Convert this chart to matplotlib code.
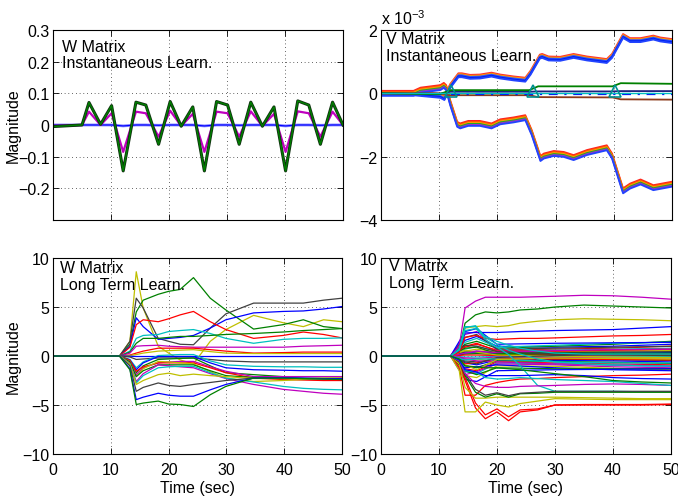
import matplotlib
matplotlib.use("Agg")
import matplotlib.pyplot as plt
from matplotlib.transforms import offset_copy

plt.rcParams['font.family'] = ['Liberation Sans', 'DejaVu Sans']
plt.rcParams['font.size'] = 11.5
plt.rcParams['mathtext.fontset'] = 'custom'
plt.rcParams['mathtext.rm'] = 'Liberation Sans'

# couleurs MATLAB
B, G, R, C, M, Y, K = '#0000ff', '#008000', '#ff0000', '#00bfbf', '#bf00bf', '#bfbf00', '#404040'

# --- W, apprentissage instantané ---
tl_t = [0, 5.0, 6.2, 8.2, 10.1, 12.1, 14.3, 16.0, 18.2, 20.2, 22.1, 24.1, 26.1,
        28.2, 30.1, 32.1, 34.1, 36.1, 38.1, 40.1, 42.2, 44.1, 46.1, 48.2, 50]
tl_green = [-0.005, 0, 0.071, 0.002, 0.061, -0.145, 0.072, 0.063, -0.061, 0.074, -0.004, 0.057, -0.145,
            0.074, 0.063, -0.061, 0.072, -0.004, 0.057, -0.145, 0.076, 0.063, -0.061, 0.072, 0.0]
tl_magenta = [-0.003, 0, 0.042, 0.0, 0.037, -0.085, 0.042, 0.037, -0.037, 0.045, -0.003, 0.035, -0.085,
              0.042, 0.037, -0.037, 0.043, -0.003, 0.035, -0.085, 0.043, 0.037, -0.037, 0.042, 0.0]
tl_blue = [0, 0, 0, 0, 0, -0.003, 0, 0, -0.001, 0, 0, 0, -0.003,
           0, 0, -0.001, 0, 0, 0, -0.003, 0, 0, -0.001, 0, 0]

# --- V, apprentissage instantané (x 1e-3) ---
tr_up_t = [0, 5.6, 10.2, 10.9, 11.9, 13.3, 13.9, 15.3, 17.0, 19.0, 20.5, 22.8, 24.8, 25.7,
           27.3, 27.7, 28.8, 30.8, 33.1, 35.4, 38.8, 39.7, 41.6, 42.8, 44.6, 46.8, 48.0, 50.0]
tr_up = [0, 0, -0.08, -0.15, 0.23, 0.57, 0.57, 0.52, 0.53, 0.59, 0.53, 0.47, 0.43, 0.65,
         1.16, 1.18, 1.10, 1.09, 1.18, 1.10, 1.02, 1.18, 1.81, 1.68, 1.68, 1.76, 1.70, 1.65]
tr_dn_t = [0, 5.6, 6.8, 10.2, 10.8, 11.2, 11.9, 13.1, 13.6, 15.0, 17.0, 19.0, 20.5, 22.8, 24.8,
           25.9, 27.4, 28.0, 29.7, 31.4, 33.1, 35.4, 38.8, 39.7, 41.6, 42.8, 44.6, 46.8, 50.0]
tr_dn = [0, 0, 0.10, 0.18, 0.25, 0.18, -0.30, -0.98, -1.03, -0.95, -0.95, -1.03, -0.90, -0.84, -0.77,
         -1.24, -2.06, -1.98, -1.90, -1.93, -2.03, -1.87, -1.72, -1.98, -3.08, -2.93, -2.80, -2.98, -2.87]
tr_small_t = [0, 10, 12, 25.5, 27, 39.8, 41.2, 50]
tr_green = [0, -0.03, 0.10, 0.10, 0.22, 0.22, 0.32, 0.30]
tr_navy = [0, -0.02, 0.05, 0.05, 0.06, 0.06, 0.07, 0.07]
tr_brown = [0, 0, -0.06, -0.06, -0.12, -0.13, -0.19, -0.20]
tr_tri_t = [12.1, 26.1, 40.2]
tr_tri = [0.08, 0.08, 0.08]

# --- W, long terme ---
bl_t = [0, 11.5, 13.3, 14.4, 15.6, 18.2, 20.0, 22.0, 24.3, 27.2, 29.9, 34.7, 39.8, 43.3, 46.8, 50]
bl_values = [
    [0, 0, 1.5, 8.6, 4.9, 1.0, 0.3, -0.4, -0.8, 1.5, 2.7, 4.15, 3.4, 3.0, 3.7, 3.5],
    [0, 0, 1.2, 4.5, 5.7, 6.3, 6.6, 6.8, 8.0, 5.9, 4.7, 2.75, 3.2, 3.7, 3.0, 2.8],
    [0, 0, 1.5, 5.9, 4.9, 1.8, 1.5, 1.2, 1.15, 2.85, 4.3, 5.4, 5.4, 5.4, 5.7, 5.9],
    [0, 0, 1.0, 3.9, 3.0, 1.7, 1.8, 1.9, 2.1, 2.85, 3.7, 4.4, 4.55, 4.6, 4.8, 5.05],
    [0, 0, 0.9, 3.2, 3.7, 3.5, 3.8, 4.2, 4.55, 3.5, 2.7, 1.8, 2.1, 2.45, 2.2, 1.85],
    [0, 0, 0.5, 1.8, 2.1, 2.2, 2.5, 2.6, 2.7, 2.3, 1.8, 1.3, 1.7, 1.8, 1.8, 1.85],
    [0, 0, 0.4, 1.3, 1.8, 1.8, 1.9, 2.0, 2.0, 2.1, 2.2, 2.3, 2.45, 2.6, 2.7, 2.8],
    [0, 0, 0.3, 1.0, 1.05, 1.1, 1.0, 0.95, 0.9, 0.9, 0.9, 0.9, 0.9, 1.0, 1.05, 1.1],
    [0, 0, 0.1, 0.3, 0.5, 0.8, 0.8, 0.8, 0.8, 0.65, 0.5, 0.3, 0.35, 0.4, 0.4, 0.4],
    [0, 0, 0.05, 0.15, 0.3, 0.5, 0.55, 0.6, 0.65, 0.45, 0.3, 0.25, 0.25, 0.25, 0.25, 0.25],
    [0, 0, -0.02, -0.05, -0.05, -0.05, -0.05, -0.05, -0.05, -0.05, -0.05, -0.05, -0.05, -0.05, -0.05, -0.05],
    [0, 0, -0.1, -0.35, -0.3, -0.2, -0.2, -0.2, -0.2, -0.35, -0.5, -0.6, -0.6, -0.6, -0.6, -0.6],
    [0, 0, -0.35, -1.2, -0.6, 0.05, 0.1, 0.15, 0.15, -0.5, -0.9, -1.05, -1.1, -1.1, -1.15, -1.15],
    [0, 0, -0.4, -1.4, -0.7, -0.05, -0.05, -0.05, -0.05, -0.7, -1.2, -1.4, -1.45, -1.5, -1.5, -1.55],
    [0, 0, -0.5, -1.7, -1.0, -0.35, -0.3, -0.25, -0.2, -1.0, -1.7, -1.9, -2.1, -2.1, -2.1, -2.1],
    [0, 0, -0.55, -1.9, -1.2, -0.7, -0.6, -0.55, -0.55, -1.1, -1.55, -2.1, -2.1, -2.1, -2.1, -2.1],
    [0, 0, -0.45, -1.55, -1.1, -0.7, -0.7, -0.7, -0.7, -1.2, -1.7, -2.25, -2.4, -2.45, -2.5, -2.5],
    [0, 0, -0.6, -2.1, -1.3, -0.55, -0.6, -0.7, -0.8, -1.6, -2.25, -2.6, -2.5, -2.4, -2.3, -2.25],
    [0, 0, -0.6, -2.1, -1.5, -0.9, -0.9, -0.9, -0.9, -1.5, -2.0, -2.2, -2.25, -2.3, -2.3, -2.3],
    [0, 0, -0.75, -2.6, -1.8, -0.9, -1.0, -1.1, -1.2, -1.8, -2.3, -2.9, -3.4, -3.6, -3.8, -3.9],
    [0, 0, -0.8, -2.75, -2.0, -1.2, -1.1, -1.05, -1.05, -1.7, -2.25, -2.65, -3.1, -3.3, -3.4, -3.45],
    [0, 0, -0.85, -2.9, -2.5, -1.9, -1.75, -2.0, -1.85, -2.0, -2.1, -2.3, -2.3, -2.3, -2.25, -2.25],
    [0, 0, -1.0, -3.6, -3.2, -2.75, -3.0, -3.1, -2.9, -2.7, -2.5, -2.25, -2.25, -2.3, -2.35, -2.4],
    [0, 0, -1.3, -4.45, -4.2, -3.8, -4.0, -4.1, -4.1, -3.45, -2.9, -2.25, -2.2, -2.25, -2.3, -2.3],
    [0, 0, -1.4, -4.95, -4.8, -4.6, -4.9, -4.95, -5.15, -3.95, -3.1, -2.25, -2.25, -2.3, -2.35, -2.4],
]
bl_colors = [Y, G, K, B, R, C, G, M, R, Y, B, K, C, B, G, M, R, Y, G, M, C, Y, K, B, G]

# --- V, long terme ---
br_t = [0, 12, 13.5, 14.5, 16.3, 18, 20, 22, 24, 27, 30, 35, 40, 45, 50]
br_values = [
    [0, 0, 1.0, 4.9, 5.6, 6.0, 6.0, 6.0, 6.0, 6.05, 6.1, 6.2, 6.15, 6.0, 5.8],
    [0, 0, 0.7, 3.35, 4.2, 4.5, 4.4, 4.5, 4.7, 4.8, 5.0, 5.2, 5.1, 5.0, 4.9],
    [0, 0, 0.6, 2.85, 3.0, 3.1, 3.0, 3.1, 3.35, 3.55, 3.7, 3.8, 3.75, 3.7, 3.6],
    [0, 0, 0.5, 2.35, 2.4, 2.4, 2.4, 2.45, 2.5, 2.55, 2.6, 2.65, 2.7, 2.85, 3.0],
    [0, 0, 0.4, 1.9, 2.1, 1.8, 1.7, 1.75, 1.8, 1.8, 1.85, 1.95, 2.05, 2.1, 2.2],
    [0, 0, 0.7, 3.0, 3.0, 1.7, 0.9, 0.15, -1.0, -3.0, -3.6, -3.6, -3.6, -3.65, -3.65],
    [0, 0, 0.6, 2.6, 2.8, 2.0, 1.5, 1.1, 0.8, 0.5, 0.3, 0.2, 0.2, 0.2, 0.2],
    [0, 0, 0.65, 2.9, 3.1, 1.9, 1.2, 0.6, 0.2, -0.3, -0.6, -0.8, -0.9, -1.0, -1.0],
    [0, 0, -0.8, -2.5, -5.3, -6.4, -5.7, -6.6, -5.7, -5.5, -5.0, -5.0, -5.0, -5.0, -4.95],
    [0, 0, -0.7, -2.2, -4.8, -6.0, -5.4, -6.2, -5.5, -5.4, -5.0, -4.95, -4.95, -4.95, -4.9],
    [0, 0, -1.2, -4.0, -4.0, -3.0, -2.7, -2.5, -2.35, -2.3, -2.2, -2.1, -2.0, -1.95, -1.85],
    [0, 0, -1.5, -5.7, -5.7, -4.7, -5.0, -5.2, -4.85, -4.6, -4.35, -4.4, -4.45, -4.45, -4.45],
    [0, 0, -0.8, -3.2, -4.3, -4.3, -4.2, -4.2, -4.2, -4.2, -4.2, -4.25, -4.3, -4.35, -4.35],
    [0, 0, -0.6, -2.0, -3.7, -4.2, -3.85, -4.2, -3.85, -3.8, -3.7, -3.7, -3.7, -3.7, -3.7],
    [0, 0, -0.55, -1.8, -3.4, -4.0, -3.75, -4.05, -3.8, -3.7, -3.6, -3.6, -3.6, -3.6, -3.6],
    [0, 0, -0.5, -1.8, -2.8, -3.1, -3.2, -3.2, -3.1, -3.05, -3.0, -2.9, -2.85, -2.9, -3.0],
    [0, 0, -0.4, -1.5, -1.6, -2.2, -2.35, -2.3, -2.2, -2.3, -2.4, -2.5, -2.6, -2.8, -3.0],
    [0, 0, -0.4, -1.4, -1.6, -2.0, -2.0, -2.0, -2.0, -1.95, -1.9, -2.0, -2.2, -2.3, -2.35],
    [0, 0, -0.3, -1.0, -1.1, -1.2, -1.2, -1.3, -1.4, -1.6, -1.8, -2.1, -2.5, -2.65, -2.75],
]
br_colors = [M, G, Y, B, R, C, C, C, R, R, R, Y, Y, G, K, M, C, B, G]

# faisceau central (V long terme)
bundle_t = [0, 12, 14.5, 16.5, 20, 30, 40, 50]
bundle_values = [
    [0, 0, 1.6, 2.0, 1.0, 0.9, 1.0, 1.2],
    [0, 0, 1.2, 1.5, 0.8, 1.0, 1.2, 1.5],
    [0, 0, 0.9, 1.2, 0.6, 0.7, 0.8, 1.0],
    [0, 0, 0.7, 1.0, 0.5, 0.6, 0.7, 0.8],
    [0, 0, 2.2, 2.5, 0.6, 0.4, 0.5, 0.6],
    [0, 0, 0.5, 0.7, 0.4, 0.45, 0.5, 0.55],
    [0, 0, 0.4, 0.5, 0.3, 0.35, 0.4, 0.45],
    [0, 0, 0.3, 0.35, 0.2, 0.25, 0.3, 0.35],
    [0, 0, 0.2, 0.25, 0.15, 0.15, 0.2, 0.2],
    [0, 0, 0.1, 0.1, 0.05, 0.1, 0.1, 0.1],
    [0, 0, -0.1, -0.1, -0.05, -0.05, -0.05, -0.05],
    [0, 0, -0.2, -0.25, -0.1, -0.15, -0.2, -0.2],
    [0, 0, -0.35, -0.4, -0.2, -0.25, -0.3, -0.35],
    [0, 0, -0.5, -0.6, -0.3, -0.35, -0.4, -0.45],
    [0, 0, -0.7, -0.9, -0.4, -0.45, -0.5, -0.6],
    [0, 0, -1.0, -1.2, -0.5, -0.55, -0.65, -0.75],
    [0, 0, -1.3, -1.5, -0.6, -0.7, -0.8, -0.9],
    [0, 0, -1.6, -1.8, -0.7, -0.8, -0.95, -1.05],
    [0, 0, -1.9, -1.6, -0.8, -0.9, -1.1, -1.2],
    [0, 0, -2.0, -2.2, -1.0, -1.05, -1.25, -1.4],
    [0, 0, 1.9, 2.2, 0.7, 0.8, 0.9, 1.0],
    [0, 0, -1.2, -1.1, -0.9, -1.2, -1.4, -1.5],
    [0, 0, 0.8, 0.9, 0.25, 0.3, 0.3, 0.3],
    [0, 0, -0.8, -0.7, -0.25, -0.3, -0.35, -0.4],
    [0, 0, 1.4, 1.8, 0.9, 1.1, 1.3, 1.4],
    [0, 0, -0.3, -0.5, -0.6, -0.8, -0.9, -1.0],
    [0, 0, 0.6, 0.4, 0.1, 0.0, -0.1, -0.15],
    [0, 0, -0.6, -0.8, -0.15, 0.05, 0.15, 0.2],
    [0, 0, 2.5, 2.8, 1.2, 1.3, 1.35, 1.4],
    [0, 0, -1.5, -1.9, -1.2, -1.3, -1.3, -1.3],
    [0, 0, 1.0, 1.3, 0.5, 0.5, 0.6, 0.7],
    [0, 0, -0.4, -0.3, -0.3, -0.6, -0.7, -0.7],
    [0, 0, 0.3, 0.5, 0.35, 0.55, 0.65, 0.7],
    [0, 0, -0.9, -1.4, -0.35, -0.2, -0.25, -0.3],
    [0, 0, 1.1, 1.0, 0.45, 0.2, 0.1, 0.05],
    [0, 0, -2.4, -2.6, -1.5, -1.4, -1.35, -1.3],
]
cycle = [B, G, R, C, M, Y, K]


def style_axes(ax, xlabels=True):
    ax.set_xlim(0, 50)
    ax.set_xticks([0, 10, 20, 30, 40, 50])
    if not xlabels:
        ax.set_xticklabels([])
    ax.grid(True, linestyle=(0, (0.8, 3.7)), color='k', linewidth=0.6)
    ax.tick_params(direction='in', top=True, right=True, length=4, width=0.6)
    ax.tick_params(axis='x', pad=6)
    ax.tick_params(axis='y', pad=2.5)
    for s in ax.spines.values():
        s.set_linewidth(0.8)


fig = plt.figure(figsize=(6.78, 5.02), dpi=100)
ax1 = fig.add_axes([0.0782, 0.5598, 0.4277, 0.3785])
ax2 = fig.add_axes([0.5619, 0.5598, 0.4292, 0.3785])
ax3 = fig.add_axes([0.0782, 0.0936, 0.4263, 0.3904])
ax4 = fig.add_axes([0.5619, 0.0936, 0.4277, 0.3904])

# haut gauche
ax1.plot(tl_t, tl_blue, color='#8080ff', lw=2.0)
ax1.plot(tl_t, tl_blue, color=B, lw=0.8)
ax1.plot(tl_t, tl_magenta, color=M, lw=1.6)
ax1.plot(tl_t, tl_green, color='#103010', lw=2.2)
ax1.plot(tl_t, tl_green, color=G, lw=1.0)
style_axes(ax1, xlabels=False)
ax1.set_ylim(-0.3, 0.3)
ax1.set_yticks([-0.2, -0.1, 0, 0.1, 0.2, 0.3])
ax1.set_yticklabels(['\u22120.2', '\u22120.1', '0', '0.1', '0.2', '0.3'])
ax1.set_ylabel('Magnitude')
ax1.yaxis.set_label_coords(-0.112, 0.5)
ax1.text(0.031, 0.955, 'W Matrix\nInstantaneous Learn.', transform=ax1.transAxes,
         va='top', ha='left', linespacing=1.15)

# haut droite : bandes rayées
up_cols = ['#ff3030', '#ff9900', '#3355ff', '#0022ee', '#2244ff']
dn_cols = ['#ff2020', '#ff5500', '#ff9900', '#22aa22', '#9933cc', '#2244ff']
for i, c in enumerate(up_cols):
    tr = offset_copy(ax2.transData, fig=fig, x=0, y=2 - i, units='dots')
    ax2.plot(tr_up_t, tr_up, color=c, lw=1.3, transform=tr)
for i, c in enumerate(dn_cols):
    tr = offset_copy(ax2.transData, fig=fig, x=0, y=2.5 - i, units='dots')
    ax2.plot(tr_dn_t, tr_dn, color=c, lw=1.3, transform=tr)
ax2.plot(tr_small_t, tr_brown, color='#8b3a1a', lw=1.3)
ax2.plot(tr_small_t, tr_navy, color='#202080', lw=1.3)
ax2.plot(tr_small_t, tr_green, color=G, lw=1.3)
ax2.plot([12, 50], [-0.02, -0.02], color=B, lw=1.6, linestyle=(0, (4, 3, 1, 3)))
ax2.plot([0, 50], [0, 0], color=C, lw=1.0)
ax2.plot(tr_tri_t, tr_tri, linestyle='none', marker='^', ms=8, mfc='none',
         mec='#009090', mew=1.2)
style_axes(ax2, xlabels=False)
ax2.set_ylim(-4, 2)
ax2.set_yticks([-4, -2, 0, 2])
ax2.text(0.0, 1.015, 'x 10$^{-3}$', transform=ax2.transAxes,
         va='bottom', ha='left')
ax2.text(0.016, 0.995, 'V Matrix\nInstantaneous Learn.', transform=ax2.transAxes,
         va='top', ha='left', linespacing=1.15)

# bas gauche
for vals, c in zip(bl_values, bl_colors):
    ax3.plot(bl_t, vals, color=c, lw=0.9)
style_axes(ax3)
ax3.set_ylim(-10, 10)
ax3.set_yticks([-10, -5, 0, 5, 10])
ax3.set_ylabel('Magnitude')
ax3.yaxis.set_label_coords(-0.112, 0.5)
ax3.set_xlabel('Time (sec)', labelpad=2)
ax3.text(0.024, 0.99, 'W Matrix\nLong Term Learn.', transform=ax3.transAxes,
         va='top', ha='left', linespacing=1.15)

# bas droite
for i, vals in enumerate(bundle_values):
    ax4.plot(bundle_t, vals, color=cycle[i % len(cycle)], lw=0.9)
for vals, c in zip(br_values, br_colors):
    ax4.plot(br_t, vals, color=c, lw=0.9)
style_axes(ax4)
ax4.set_ylim(-10, 10)
ax4.set_yticks([-10, -5, 0, 5, 10])
ax4.set_xlabel('Time (sec)', labelpad=2)
ax4.text(0.028, 1.0, 'V Matrix\nLong Term Learn.', transform=ax4.transAxes,
         va='top', ha='left', linespacing=1.15)

fig.savefig('out.png', dpi=100)
